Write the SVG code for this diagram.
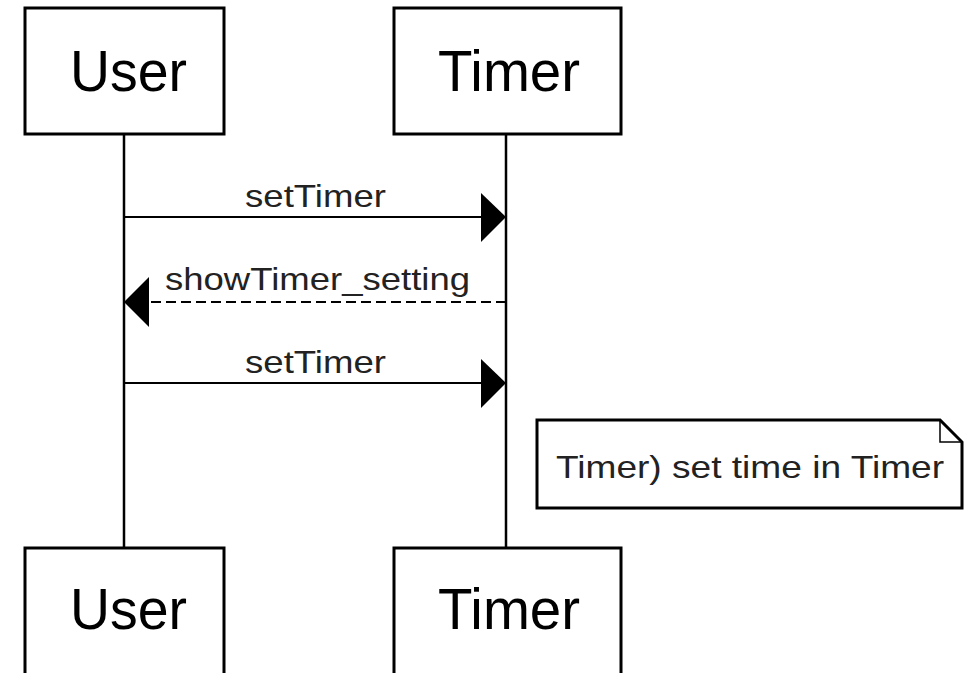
<svg xmlns="http://www.w3.org/2000/svg" width="974" height="673" viewBox="0 0 974 673">
<style>
.box{fill:#fff;stroke:#000;stroke-width:3}
.life{stroke:#000;stroke-width:2.5;fill:none}
.msg{stroke:#000;stroke-width:2;fill:none}
.dash{stroke-dasharray:10 5}
.head{fill:#000;stroke:none}
.big{font-family:"Liberation Sans",Arial,sans-serif;font-size:58px;fill:#000}
.lbl{font-family:"Liberation Sans",Arial,sans-serif;font-size:32px;fill:#222}
</style>
<rect width="974" height="673" fill="#fff"/>
<g id="lifelines">
<line class="life" x1="124" y1="134" x2="124" y2="548"/>
<line class="life" x1="506" y1="134" x2="506" y2="548"/>
</g>
<g id="user-top"><rect class="box" x="25" y="8" width="199" height="126"/><text class="big" x="70" y="91" textLength="117" lengthAdjust="spacingAndGlyphs">User</text></g>
<g id="timer-top"><rect class="box" x="394" y="8" width="227" height="126"/><text class="big" x="438" y="91" textLength="142" lengthAdjust="spacingAndGlyphs">Timer</text></g>
<g id="user-bottom"><rect class="box" x="25" y="548" width="199" height="140"/><text class="big" x="70" y="629" textLength="117" lengthAdjust="spacingAndGlyphs">User</text></g>
<g id="timer-bottom"><rect class="box" x="394" y="548" width="227" height="140"/><text class="big" x="438" y="629" textLength="142" lengthAdjust="spacingAndGlyphs">Timer</text></g>
<g id="connectors">
<line class="msg" x1="124" y1="217" x2="482" y2="217"/>
<polygon class="head" points="481,193 506,217 481,242"/>
<text class="lbl" x="245" y="207" textLength="141" lengthAdjust="spacingAndGlyphs">setTimer</text>
<line class="msg dash" x1="506" y1="302" x2="148" y2="302"/>
<polygon class="head" points="149,277 124,302 149,327"/>
<text class="lbl" x="165" y="290" textLength="305" lengthAdjust="spacingAndGlyphs">showTimer_setting</text>
<line class="msg" x1="124" y1="383" x2="482" y2="383"/>
<polygon class="head" points="481,359 506,383 481,408"/>
<text class="lbl" x="245" y="373" textLength="141" lengthAdjust="spacingAndGlyphs">setTimer</text>
</g>
<g id="note">
<path class="box" d="M537,420 L940,420 L962,442 L962,508 L537,508 Z" stroke-width="2.5"/>
<path d="M940,420 L940,442 L962,442" fill="none" stroke="#000" stroke-width="1.5"/>
<text class="lbl" x="556" y="478" textLength="388" lengthAdjust="spacingAndGlyphs">Timer) set time in Timer</text>
</g>
</svg>
